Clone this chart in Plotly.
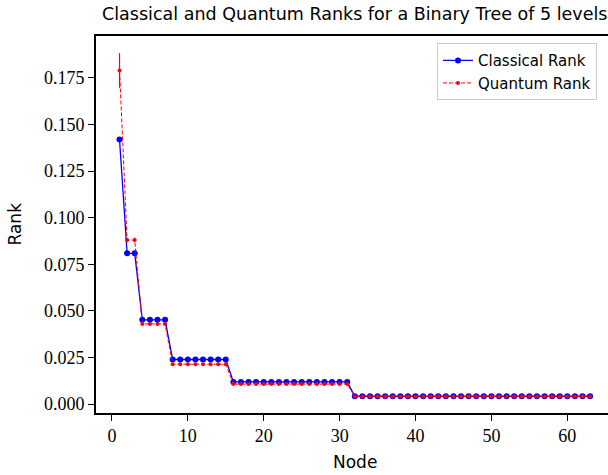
import plotly.graph_objects as go

nodes = list(range(1, 64))

classical_rank = (
    [0.1420]
    + [0.0809, 0.0809]
    + [0.0452, 0.0452, 0.0452, 0.0452]
    + [0.0239] * 8
    + [0.0119] * 16
    + [0.0042] * 32
)
quantum_rank = (
    [0.1790]
    + [0.0880, 0.0880]
    + [0.0430, 0.0430, 0.0430, 0.0430]
    + [0.0214] * 8
    + [0.0107] * 16
    + [0.0040] * 32
)
quantum_err = (
    [0.0093]
    + [0.0012, 0.0012]
    + [0.0006] * 4
    + [0.0003] * 8
    + [0.0002] * 16
    + [0.0001] * 32
)

x_ticks = [0, 10, 20, 30, 40, 50, 60]
y_ticks = [0.000, 0.025, 0.050, 0.075, 0.100, 0.125, 0.150, 0.175]

W, H = 608, 475
L, R, T, B = 96, 0, 36, 62

fig = go.Figure()
fig.add_trace(go.Scatter(
    x=nodes, y=classical_rank, name="Classical Rank", mode="lines+markers",
    line=dict(color="#0000ff", width=1.3),
    marker=dict(color="#0000ff", size=6, symbol="circle"),
))
fig.add_trace(go.Scatter(
    x=nodes, y=quantum_rank, name="Quantum Rank", mode="lines+markers",
    line=dict(color="#ff0000", width=1, dash="4px,2px"),
    marker=dict(color="#ff0000", size=4, symbol="circle"),
    error_y=dict(type="data", array=quantum_err, color="#ff0000", thickness=1.2, width=0),
))

tickfont = dict(family="Liberation Serif", size=18, color="#000000")
fig.update_layout(
    width=W, height=H,
    margin=dict(l=L, r=R, t=T, b=B, pad=0),
    paper_bgcolor="white", plot_bgcolor="white",
    showlegend=True,
    legend=dict(
        x=0.9785, y=0.981, xanchor="right", yanchor="top",
        bgcolor="white", bordercolor="#cccccc", borderwidth=1,
        font=dict(family="DejaVu Sans", size=15, color="#000000"),
        tracegroupgap=0, itemwidth=30,
    ),
    xaxis=dict(
        range=[-2.1, 65.36], tickvals=x_ticks, ticktext=[str(v) for v in x_ticks],
        showgrid=False, zeroline=False, showline=True, linecolor="#000000",
        linewidth=1.6, mirror=True, ticks="outside", ticklen=6, tickwidth=1.4,
        tickcolor="#000000", tickfont=tickfont,
    ),
    yaxis=dict(
        range=[-0.0048, 0.1975], tickvals=y_ticks,
        ticktext=[f"{v:.3f}" for v in y_ticks],
        showgrid=False, zeroline=False, showline=True, linecolor="#000000",
        linewidth=1.6, mirror=False, ticks="outside", ticklen=6, tickwidth=1.4,
        tickcolor="#000000", tickfont=tickfont,
    ),
    annotations=[
        dict(text="Classical and Quantum Ranks for a Binary Tree of 5 levels",
             xref="paper", yref="paper", x=(354.5 - L) / (W - L - R),
             y=1 + (36 - 14) / (H - T - B), xanchor="center", yanchor="middle",
             showarrow=False, font=dict(family="DejaVu Sans", size=17.5, color="#000000")),
        dict(text="Node", xref="paper", yref="paper", x=(354.5 - L) / (W - L - R),
             y=-(462 - (H - B)) / (H - T - B), xanchor="center", yanchor="middle",
             showarrow=False, font=dict(family="DejaVu Sans", size=17, color="#000000")),
        dict(text="Rank", xref="paper", yref="paper", x=-(L - 14) / (W - L - R),
             y=0.5, xanchor="center", yanchor="middle", textangle=-90,
             showarrow=False, font=dict(family="DejaVu Sans", size=17, color="#000000")),
    ],
)

fig.write_html("out.html")
